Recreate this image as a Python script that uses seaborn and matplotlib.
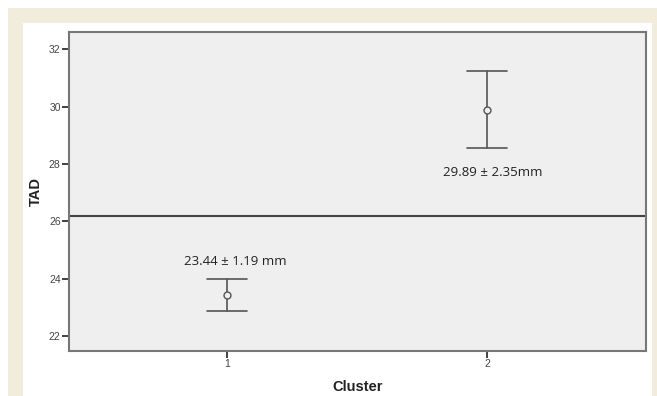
import matplotlib
matplotlib.use("Agg")
import matplotlib.pyplot as plt
import seaborn as sns
import pandas as pd
from matplotlib.patches import Rectangle

# Data
clusters = [1, 2]
means = [23.44, 29.89]
lower = [22.87, 28.55]
upper = [24.00, 31.25]
labels = ["23.44 \u00b1 1.19 mm", "29.89 \u00b1 2.35mm"]
ref_line = 26.17
yticks = [22, 24, 26, 28, 30, 32]

df = pd.DataFrame({"Cluster": clusters, "TAD": means, "lo": lower, "hi": upper})

sns.set_theme(style="white")
plt.rcParams['font.family'] = ['Liberation Sans', 'DejaVu Sans']

W, H = 657, 396
fig = plt.figure(figsize=(W / 100, H / 100), dpi=100, facecolor="white")

beige = "#f1ecdc"
# beige frame
fig.patches.append(Rectangle((8 / W, 0), 15 / W, (H - 8) / H, transform=fig.transFigure,
                             facecolor=beige, edgecolor="none", zorder=0))
fig.patches.append(Rectangle((8 / W, 1 - 23 / H), (W - 8) / W, 15 / H, transform=fig.transFigure,
                             facecolor=beige, edgecolor="none", zorder=0))
fig.patches.append(Rectangle((652 / W, 0), 5 / W, (H - 8) / H, transform=fig.transFigure,
                             facecolor=beige, edgecolor="none", zorder=0))

ax = fig.add_axes([69 / W, 1 - 351 / H, (646 - 69) / W, (351 - 32) / H])
ax.set_facecolor("#efefef")

line_col = "#555555"
for _, r in df.iterrows():
    ax.plot([r.Cluster, r.Cluster], [r.lo, r.hi], color=line_col, lw=1.2, zorder=2)
    for yv in (r.lo, r.hi):
        ax.plot([r.Cluster - 0.077, r.Cluster + 0.077], [yv, yv], color=line_col, lw=1.2, zorder=2)

sns.scatterplot(data=df, x="Cluster", y="TAD", ax=ax, marker="o", s=25,
                facecolor="#efefef", edgecolor=line_col, linewidth=1.0, zorder=3, legend=False)

ax.axhline(ref_line, color="#444444", lw=1.5, zorder=1)

ax.text(1.03, 24.6, labels[0], ha="center", va="center", fontsize=9.5, color="#222222",
        family=["Open Sans", "DejaVu Sans"])
ax.text(2.02, 27.7, labels[1], ha="center", va="center", fontsize=9.5, color="#222222",
        family=["Open Sans", "DejaVu Sans"])

ax.set_xlim(0.392, 2.61)
ax.set_ylim(21.48, 32.6)
ax.set_xticks(clusters)
ax.set_xticklabels([str(c) for c in clusters])
ax.set_yticks(yticks)
ax.set_yticklabels([str(t) for t in yticks])
ax.tick_params(axis="both", direction="out", length=5, width=1.3, color="#333333",
               labelsize=7.5, labelcolor="#444444", pad=1, left=True, bottom=True)

for s in ax.spines.values():
    s.set_color("#777777")
    s.set_linewidth(1.5)

ax.set_xlabel("Cluster", fontsize=10.5, fontweight="bold", color="#222222", labelpad=8)
ax.set_ylabel("TAD", fontsize=10.5, fontweight="bold", color="#222222", labelpad=4)

fig.savefig("out.png", dpi=100, facecolor="white")
